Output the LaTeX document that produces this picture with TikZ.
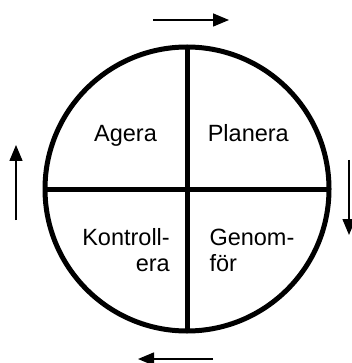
\documentclass[tikz,border=0pt]{standalone}
\usepackage{fontspec}
\setmainfont{Liberation Sans}
\usetikzlibrary{arrows.meta}

\tikzset{
  wheel/.style={line width=5pt},
  flow/.style={line width=1.5pt, -{Triangle[length=16pt,width=13pt]}},
  word/.style={inner sep=0pt, font=\fontsize{23.5}{26}\selectfont}
}

\begin{document}
\begin{tikzpicture}[x=1pt, y=-1pt]
  \useasboundingbox (0,0) rectangle (351,363);
  % the circle and its quarters
  \coordinate (c) at (187,189);
  \draw[wheel] (c) circle (142pt);
  \draw[wheel] (187,47) coordinate (n) -- (187,331) coordinate (s);
  \draw[wheel] (45,189) coordinate (w) -- (329,189) coordinate (e);
  \node[word, anchor=base] (agera)   at (125.5,142) {Agera};
  \node[word, anchor=base] (planera) at (248.3,142) {Planera};
  \node[word, anchor=base east, align=right] (kontroll) at (170,271) {Kontroll-\\era};
  \node[word, anchor=base west, align=left]  (genomfor) at (209.3,271) {Genom-\\för};
  % arrows round the circle
  \coordinate (t1) at (153,20);  \coordinate (t2) at (229,20);
  \coordinate (r1) at (349,160); \coordinate (r2) at (349,235);
  \coordinate (b1) at (213,359); \coordinate (b2) at (138,359);
  \coordinate (l1) at (16,220);  \coordinate (l2) at (16,145);
  \draw[flow] (t1) -- (t2);
  \draw[flow] (r1) -- (r2);
  \draw[flow] (b1) -- (b2);
  \draw[flow] (l1) -- (l2);
\end{tikzpicture}
\end{document}
